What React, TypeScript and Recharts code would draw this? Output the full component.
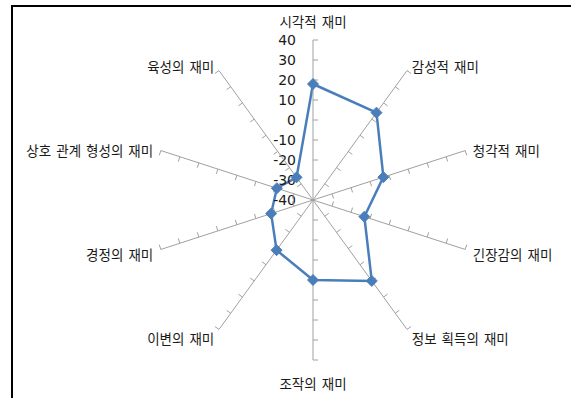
import { RadarChart, Radar, PolarAngleAxis, PolarRadiusAxis } from "recharts"

const categories = [
  "시각적 재미",
  "감성적 재미",
  "청각적 재미",
  "긴장감의 재미",
  "정보 획득의 재미",
  "조작의 재미",
  "이변의 재미",
  "경정의 재미",
  "상호 관계 형성의 재미",
  "육성의 재미",
]
const scores = [18, 14, -3, -13, 10, 0, -9, -18, -21, -26]
const radiusDomain: [number, number] = [-40, 40]
const radiusTickCount = 9

const data = categories.map((name, i) => ({ name, score: scores[i] }))

const CX = 313
const CY = 200
const SPOKE = "#a0a0a0"
const LINE = "#4a7ebb"
const TEXT = "#1a1a1a"
const FONT = "'Noto Sans CJK KR', 'Noto Sans', sans-serif"

// spokes go clockwise from 12 o'clock, one per category
const spokeAngles = categories.map((_, i) => 90 - (i * 360) / categories.length)

function spokeTick(angle: number, withLabel: boolean) {
  return (props: any) => {
    const { x, y, payload, index } = props
    const rad = (angle * Math.PI) / 180
    const dirX = Math.cos(rad)
    let px = Math.sin(rad)
    let py = Math.cos(rad)
    const vertical = Math.abs(dirX) < 1e-6
    if ((vertical && px < 0) || (!vertical && px * dirX < 0)) {
      px = -px
      py = -py
    }
    return (
      <g>
        {index !== 0 && (
          <line x1={x} y1={y} x2={x + px * 5} y2={y + py * 5} stroke={SPOKE} strokeWidth={1} />
        )}
        {withLabel && (
          <text
            x={x - 17}
            y={y}
            dy={5}
            textAnchor="end"
            fontSize={14}
            fontFamily="'DejaVu Sans', sans-serif"
            fill={TEXT}
          >
            {payload.value}
          </text>
        )}
      </g>
    )
  }
}

function categoryTick(props: any) {
  const { x, y, payload, textAnchor } = props
  let dy = 8
  if (textAnchor === "middle") dy = y < CY ? -5 : 21
  return (
    <text
      x={x}
      y={y}
      dy={dy}
      textAnchor={textAnchor}
      fontSize={13.5}
      fontFamily={FONT}
      wordSpacing={2}
      fill={TEXT}
    >
      {payload.value}
    </text>
  )
}

function diamond(props: any) {
  const { cx, cy, index } = props
  const s = 5.5
  return (
    <polygon
      key={index}
      points={`${cx},${cy - s} ${cx + s},${cy} ${cx},${cy + s} ${cx - s},${cy}`}
      fill={LINE}
      stroke={LINE}
      strokeWidth={1}
    />
  )
}

export default function App() {
  return (
    <div
      style={{
        position: "absolute",
        left: 0,
        top: 0,
        width: 571,
        height: 398,
        overflow: "hidden",
        background: "#fff",
      }}
    >
      <div
        style={{
          position: "absolute",
          left: 11,
          top: 5,
          width: 620,
          height: 460,
          borderLeft: "2px solid #000",
          borderTop: "2px solid #000",
        }}
      />
      <div style={{ position: "absolute", left: 0, top: 0 }}>
        <RadarChart
          width={571}
          height={398}
          data={data}
          cx={CX}
          cy={CY}
          outerRadius={160}
          margin={{ top: 0, right: 0, bottom: 0, left: 0 }}
        >
          <PolarAngleAxis dataKey="name" axisLine={false} tickLine={false} tick={categoryTick} />
          {spokeAngles.map((angle, i) => (
            <PolarRadiusAxis
              key={i}
              radiusAxisId={i}
              angle={angle}
              domain={radiusDomain}
              tickCount={radiusTickCount}
              axisLine={{ stroke: SPOKE, strokeWidth: 1 }}
              tickLine={false}
              tick={spokeTick(angle, i === 0)}
            />
          ))}
          {/* invisible series so every spoke axis gets drawn */}
          {spokeAngles.slice(1).map((_, i) => (
            <Radar
              key={`ghost-${i}`}
              radiusAxisId={i + 1}
              dataKey="score"
              stroke="none"
              fill="none"
              dot={false}
              legendType="none"
              isAnimationActive={false}
            />
          ))}
          <Radar
            radiusAxisId={0}
            dataKey="score"
            stroke={LINE}
            strokeWidth={2.5}
            fill="none"
            fillOpacity={0}
            dot={diamond}
            isAnimationActive={false}
          />
        </RadarChart>
      </div>
    </div>
  )
}
